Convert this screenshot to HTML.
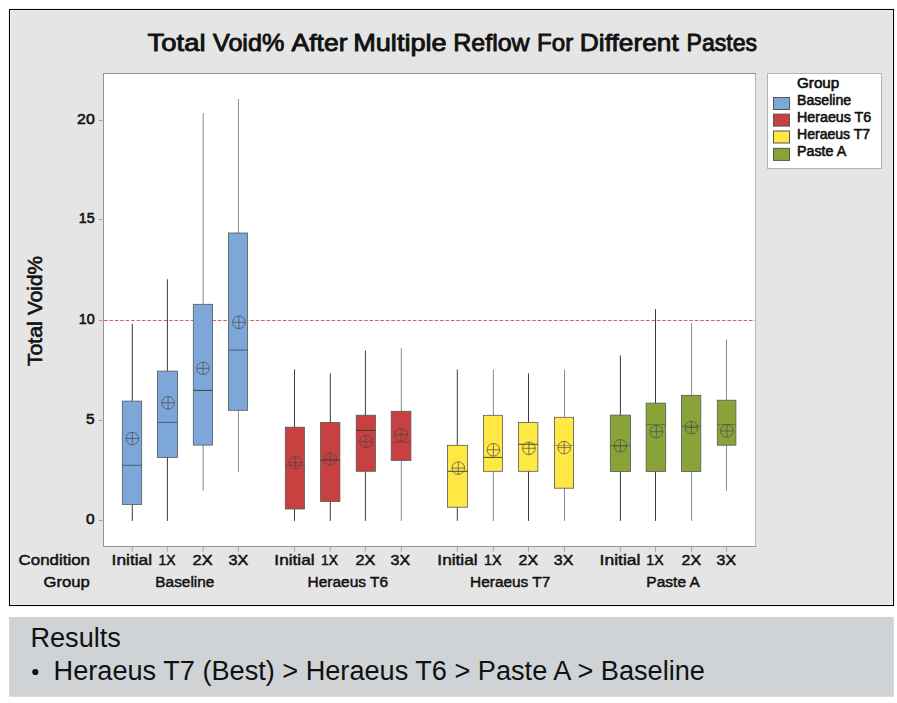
<!DOCTYPE html>
<html><head><meta charset="utf-8"><title>Total Void% After Multiple Reflow</title>
<style>
html,body{margin:0;padding:0;background:#fff;}
body{width:897px;height:703px;overflow:hidden;font-family:"Liberation Sans",sans-serif;}
svg{display:block;}
text{font-family:"Liberation Sans",sans-serif;fill:#111;}
.b{font-weight:normal;stroke:#111;stroke-linejoin:round;}
</style></head><body>
<svg width="897" height="703" viewBox="0 0 897 703">
<rect x="0" y="0" width="897" height="703" fill="#ffffff"/>
<!-- outer frame -->
<rect x="9.5" y="9.5" width="884" height="596" fill="#e5e5e5" stroke="#000" stroke-width="1.1"/>
<rect x="10.6" y="10.6" width="881.8" height="593.8" fill="none" stroke="#efefef" stroke-width="0.9"/>
<!-- plot area -->
<rect x="103.5" y="73.5" width="652" height="473" fill="#ffffff" stroke="#939393" stroke-width="1"/>
<line x1="755.5" y1="74.5" x2="755.5" y2="546" stroke="#b6b6b6" stroke-width="1"/>
<!-- legend -->
<rect x="767.5" y="73.5" width="114" height="95" fill="#ffffff" stroke="#b4b4b4" stroke-width="1"/>

<g class="b" font-size="24.5" stroke-width="0.9">
<text x="147.6" y="51.4" textLength="58.0" lengthAdjust="spacingAndGlyphs">Total</text>
<text x="213.0" y="51.4" textLength="71.3" lengthAdjust="spacingAndGlyphs">Void%</text>
<text x="291.5" y="51.4" textLength="56.0" lengthAdjust="spacingAndGlyphs">After</text>
<text x="353.2" y="51.4" textLength="93.5" lengthAdjust="spacingAndGlyphs">Multiple</text>
<text x="453.2" y="51.4" textLength="76.5" lengthAdjust="spacingAndGlyphs">Reflow</text>
<text x="537.0" y="51.4" textLength="36.2" lengthAdjust="spacingAndGlyphs">For</text>
<text x="579.8" y="51.4" textLength="99.0" lengthAdjust="spacingAndGlyphs">Different</text>
<text x="686.5" y="51.4" textLength="70.5" lengthAdjust="spacingAndGlyphs">Pastes</text>
</g>
<g stroke="#a8a8a8" stroke-width="1">
<line x1="98.5" y1="120.5" x2="103.5" y2="120.5"/>
<line x1="98.5" y1="219.5" x2="103.5" y2="219.5"/>
<line x1="98.5" y1="320.5" x2="103.5" y2="320.5"/>
<line x1="98.5" y1="420.5" x2="103.5" y2="420.5"/>
<line x1="98.5" y1="520.5" x2="103.5" y2="520.5"/>
</g>
<g class="b" font-size="15" stroke-width="0.6">
<text x="77.10" y="123.9" textLength="17.6" lengthAdjust="spacingAndGlyphs">20</text>
<text x="78.80" y="222.9" textLength="15.9" lengthAdjust="spacingAndGlyphs">15</text>
<text x="78.80" y="323.9" textLength="15.9" lengthAdjust="spacingAndGlyphs">10</text>
<text x="86.10" y="423.9" textLength="8.6" lengthAdjust="spacingAndGlyphs">5</text>
<text x="86.10" y="523.9" textLength="8.6" lengthAdjust="spacingAndGlyphs">0</text>
</g>
<text class="b" font-size="20.2" stroke-width="0.6" textLength="45" lengthAdjust="spacingAndGlyphs" transform="translate(42,366.2) rotate(-90)">Total</text>
<text class="b" font-size="20.2" stroke-width="0.6" textLength="59" lengthAdjust="spacingAndGlyphs" transform="translate(42,315) rotate(-90)">Void%</text>
<line x1="104" y1="320.5" x2="755" y2="320.5" stroke="#e35c5c" stroke-width="1" stroke-dasharray="3.6 1.82"/>
<line x1="132.3" y1="323.8" x2="132.3" y2="520.9" stroke="#3c3c3c" stroke-width="1"/>
<rect x="122.3" y="401.1" width="19.4" height="103.4" fill="#7da7d9" stroke="#585858" stroke-width="0.8"/>
<line x1="122.3" y1="465.3" x2="141.7" y2="465.3" stroke="#383838" stroke-opacity="0.75" stroke-width="0.9"/>
<g stroke="#484848" stroke-width="0.7" fill="none"><circle cx="132.3" cy="438.5" r="6.3"/><line x1="126.0" y1="438.5" x2="138.6" y2="438.5"/><line x1="132.3" y1="432.2" x2="132.3" y2="444.8"/></g>
<line x1="167.4" y1="279.3" x2="167.4" y2="520.9" stroke="#3c3c3c" stroke-width="1"/>
<rect x="157.4" y="371.1" width="20.1" height="86.4" fill="#7da7d9" stroke="#585858" stroke-width="0.8"/>
<line x1="157.4" y1="422.4" x2="177.5" y2="422.4" stroke="#383838" stroke-opacity="0.7" stroke-width="0.9"/>
<g stroke="#484848" stroke-width="0.7" fill="none"><circle cx="168.1" cy="402.8" r="6.3"/><line x1="161.8" y1="402.8" x2="174.4" y2="402.8"/><line x1="168.1" y1="396.5" x2="168.1" y2="409.1"/></g>
<line x1="203.2" y1="112.9" x2="203.2" y2="490.6" stroke="#8c8c8c" stroke-width="1"/>
<rect x="193.3" y="304.3" width="19.3" height="140.8" fill="#7da7d9" stroke="#585858" stroke-width="0.8"/>
<line x1="193.3" y1="390.4" x2="212.6" y2="390.4" stroke="#383838" stroke-opacity="1" stroke-width="0.9"/>
<g stroke="#484848" stroke-width="0.7" fill="none"><circle cx="203.1" cy="368.3" r="6.3"/><line x1="196.8" y1="368.3" x2="209.4" y2="368.3"/><line x1="203.1" y1="362.0" x2="203.1" y2="374.6"/></g>
<line x1="238.4" y1="98.9" x2="238.4" y2="471.7" stroke="#8c8c8c" stroke-width="1"/>
<rect x="228.5" y="233.0" width="19.1" height="177.3" fill="#7da7d9" stroke="#585858" stroke-width="0.8"/>
<line x1="228.5" y1="350.1" x2="247.6" y2="350.1" stroke="#383838" stroke-opacity="0.75" stroke-width="0.9"/>
<g stroke="#484848" stroke-width="0.7" fill="none"><circle cx="238.9" cy="322.3" r="6.3"/><line x1="232.6" y1="322.3" x2="245.2" y2="322.3"/><line x1="238.9" y1="316.0" x2="238.9" y2="328.6"/></g>
<line x1="294.5" y1="369.4" x2="294.5" y2="520.9" stroke="#3c3c3c" stroke-width="1"/>
<rect x="285.3" y="427.2" width="19.1" height="81.8" fill="#c8403f" stroke="#585858" stroke-width="0.8"/>
<line x1="285.3" y1="465.3" x2="304.4" y2="465.3" stroke="#383838" stroke-opacity="0.45" stroke-width="0.9"/>
<g stroke="#484848" stroke-width="0.7" fill="none"><circle cx="295.4" cy="462.5" r="6.3"/><line x1="289.1" y1="462.5" x2="301.7" y2="462.5"/><line x1="295.4" y1="456.2" x2="295.4" y2="468.8"/></g>
<line x1="330.3" y1="373.4" x2="330.3" y2="520.9" stroke="#3c3c3c" stroke-width="1"/>
<rect x="320.6" y="422.5" width="19.3" height="79.0" fill="#c8403f" stroke="#585858" stroke-width="0.8"/>
<line x1="320.6" y1="460.2" x2="339.9" y2="460.2" stroke="#383838" stroke-opacity="1" stroke-width="0.9"/>
<g stroke="#484848" stroke-width="0.7" fill="none"><circle cx="330.3" cy="459.0" r="6.3"/><line x1="324.0" y1="459.0" x2="336.6" y2="459.0"/><line x1="330.3" y1="452.7" x2="330.3" y2="465.3"/></g>
<line x1="365.4" y1="350.5" x2="365.4" y2="520.9" stroke="#3c3c3c" stroke-width="1"/>
<rect x="356.2" y="415.2" width="19.2" height="56.1" fill="#c8403f" stroke="#585858" stroke-width="0.8"/>
<line x1="356.2" y1="430.4" x2="375.4" y2="430.4" stroke="#383838" stroke-opacity="1" stroke-width="0.9"/>
<g stroke="#484848" stroke-width="0.7" fill="none"><circle cx="366.0" cy="441.5" r="6.3"/><line x1="359.7" y1="441.5" x2="372.3" y2="441.5"/><line x1="366.0" y1="435.2" x2="366.0" y2="447.8"/></g>
<line x1="401.3" y1="348.2" x2="401.3" y2="520.9" stroke="#8c8c8c" stroke-width="1"/>
<rect x="391.2" y="411.3" width="19.7" height="49.1" fill="#c8403f" stroke="#585858" stroke-width="0.8"/>
<line x1="391.2" y1="442.3" x2="410.9" y2="442.3" stroke="#383838" stroke-opacity="0.45" stroke-width="0.9"/>
<g stroke="#484848" stroke-width="0.7" fill="none"><circle cx="401.1" cy="434.6" r="6.3"/><line x1="394.8" y1="434.6" x2="407.4" y2="434.6"/><line x1="401.1" y1="428.3" x2="401.1" y2="440.9"/></g>
<line x1="457.3" y1="369.5" x2="457.3" y2="520.9" stroke="#3c3c3c" stroke-width="1"/>
<rect x="447.4" y="445.3" width="20.1" height="61.9" fill="#ffe843" stroke="#585858" stroke-width="0.8"/>
<line x1="447.4" y1="471.3" x2="467.5" y2="471.3" stroke="#383838" stroke-opacity="1" stroke-width="0.9"/>
<g stroke="#484848" stroke-width="0.7" fill="none"><circle cx="458.3" cy="468.1" r="6.3"/><line x1="452.0" y1="468.1" x2="464.6" y2="468.1"/><line x1="458.3" y1="461.8" x2="458.3" y2="474.4"/></g>
<line x1="493.4" y1="369.5" x2="493.4" y2="520.9" stroke="#8c8c8c" stroke-width="1"/>
<rect x="483.4" y="415.3" width="19.0" height="56.0" fill="#ffe843" stroke="#585858" stroke-width="0.8"/>
<line x1="483.4" y1="457.4" x2="502.4" y2="457.4" stroke="#383838" stroke-opacity="1" stroke-width="0.9"/>
<g stroke="#484848" stroke-width="0.7" fill="none"><circle cx="493.4" cy="449.8" r="6.3"/><line x1="487.1" y1="449.8" x2="499.7" y2="449.8"/><line x1="493.4" y1="443.5" x2="493.4" y2="456.1"/></g>
<line x1="528.5" y1="373.4" x2="528.5" y2="520.9" stroke="#3c3c3c" stroke-width="1"/>
<rect x="518.5" y="422.4" width="19.4" height="48.9" fill="#ffe843" stroke="#585858" stroke-width="0.8"/>
<line x1="518.5" y1="444.3" x2="537.9" y2="444.3" stroke="#383838" stroke-opacity="1" stroke-width="0.9"/>
<g stroke="#484848" stroke-width="0.7" fill="none"><circle cx="528.9" cy="448.3" r="6.3"/><line x1="522.6" y1="448.3" x2="535.2" y2="448.3"/><line x1="528.9" y1="442.0" x2="528.9" y2="454.6"/></g>
<line x1="564.5" y1="369.5" x2="564.5" y2="520.9" stroke="#8c8c8c" stroke-width="1"/>
<rect x="554.4" y="417.3" width="19.2" height="70.9" fill="#ffe843" stroke="#585858" stroke-width="0.8"/>
<line x1="554.4" y1="445.5" x2="573.6" y2="445.5" stroke="#383838" stroke-opacity="0.45" stroke-width="0.9"/>
<g stroke="#484848" stroke-width="0.7" fill="none"><circle cx="564.2" cy="447.6" r="6.3"/><line x1="557.9" y1="447.6" x2="570.5" y2="447.6"/><line x1="564.2" y1="441.3" x2="564.2" y2="453.9"/></g>
<line x1="620.4" y1="355.5" x2="620.4" y2="520.9" stroke="#3c3c3c" stroke-width="1"/>
<rect x="610.3" y="415.1" width="20.2" height="56.4" fill="#8aa339" stroke="#585858" stroke-width="0.8"/>
<line x1="610.3" y1="445.6" x2="630.5" y2="445.6" stroke="#383838" stroke-opacity="0.5" stroke-width="0.9"/>
<g stroke="#484848" stroke-width="0.7" fill="none"><circle cx="620.4" cy="445.8" r="6.3"/><line x1="614.1" y1="445.8" x2="626.7" y2="445.8"/><line x1="620.4" y1="439.5" x2="620.4" y2="452.1"/></g>
<line x1="655.5" y1="309.1" x2="655.5" y2="520.9" stroke="#3c3c3c" stroke-width="1"/>
<rect x="646.1" y="403.1" width="19.6" height="68.4" fill="#8aa339" stroke="#585858" stroke-width="0.8"/>
<line x1="646.1" y1="424.4" x2="665.7" y2="424.4" stroke="#383838" stroke-opacity="0.5" stroke-width="0.9"/>
<g stroke="#484848" stroke-width="0.7" fill="none"><circle cx="656.3" cy="431.7" r="6.3"/><line x1="650.0" y1="431.7" x2="662.6" y2="431.7"/><line x1="656.3" y1="425.4" x2="656.3" y2="438.0"/></g>
<line x1="691.6" y1="323.2" x2="691.6" y2="520.9" stroke="#8c8c8c" stroke-width="1"/>
<rect x="681.4" y="395.3" width="19.4" height="76.2" fill="#8aa339" stroke="#585858" stroke-width="0.8"/>
<line x1="681.4" y1="426.2" x2="700.8" y2="426.2" stroke="#383838" stroke-opacity="0.5" stroke-width="0.9"/>
<g stroke="#484848" stroke-width="0.7" fill="none"><circle cx="691.4" cy="427.5" r="6.3"/><line x1="685.1" y1="427.5" x2="697.7" y2="427.5"/><line x1="691.4" y1="421.2" x2="691.4" y2="433.8"/></g>
<line x1="726.5" y1="339.4" x2="726.5" y2="490.8" stroke="#8c8c8c" stroke-width="1"/>
<rect x="717.3" y="400.2" width="18.6" height="45.0" fill="#8aa339" stroke="#585858" stroke-width="0.8"/>
<line x1="717.3" y1="424.4" x2="735.9" y2="424.4" stroke="#383838" stroke-opacity="0.5" stroke-width="0.9"/>
<g stroke="#484848" stroke-width="0.7" fill="none"><circle cx="726.9" cy="430.9" r="6.3"/><line x1="720.6" y1="430.9" x2="733.2" y2="430.9"/><line x1="726.9" y1="424.6" x2="726.9" y2="437.2"/></g>
<g stroke="#a8a8a8" stroke-width="1">
<line x1="132.3" y1="547" x2="132.3" y2="551.6"/>
<line x1="167.4" y1="547" x2="167.4" y2="551.6"/>
<line x1="203.2" y1="547" x2="203.2" y2="551.6"/>
<line x1="238.4" y1="547" x2="238.4" y2="551.6"/>
<line x1="294.5" y1="547" x2="294.5" y2="551.6"/>
<line x1="330.3" y1="547" x2="330.3" y2="551.6"/>
<line x1="365.4" y1="547" x2="365.4" y2="551.6"/>
<line x1="401.3" y1="547" x2="401.3" y2="551.6"/>
<line x1="457.3" y1="547" x2="457.3" y2="551.6"/>
<line x1="493.4" y1="547" x2="493.4" y2="551.6"/>
<line x1="528.5" y1="547" x2="528.5" y2="551.6"/>
<line x1="564.5" y1="547" x2="564.5" y2="551.6"/>
<line x1="620.4" y1="547" x2="620.4" y2="551.6"/>
<line x1="655.5" y1="547" x2="655.5" y2="551.6"/>
<line x1="691.6" y1="547" x2="691.6" y2="551.6"/>
<line x1="726.5" y1="547" x2="726.5" y2="551.6"/>
</g>
<g class="b" font-size="15.5" stroke-width="0.5">
<text x="111.60" y="564.9" textLength="40.5" lengthAdjust="spacingAndGlyphs">Initial</text>
<text x="158.60" y="564.9" textLength="17.0" lengthAdjust="spacingAndGlyphs">1X</text>
<text x="192.60" y="564.9" textLength="20.0" lengthAdjust="spacingAndGlyphs">2X</text>
<text x="228.60" y="564.9" textLength="19.8" lengthAdjust="spacingAndGlyphs">3X</text>
<text x="274.35" y="564.9" textLength="40.2" lengthAdjust="spacingAndGlyphs">Initial</text>
<text x="321.10" y="564.9" textLength="17.0" lengthAdjust="spacingAndGlyphs">1X</text>
<text x="355.60" y="564.9" textLength="19.8" lengthAdjust="spacingAndGlyphs">2X</text>
<text x="390.60" y="564.9" textLength="19.5" lengthAdjust="spacingAndGlyphs">3X</text>
<text x="437.35" y="564.9" textLength="40.2" lengthAdjust="spacingAndGlyphs">Initial</text>
<text x="484.10" y="564.9" textLength="17.5" lengthAdjust="spacingAndGlyphs">1X</text>
<text x="518.60" y="564.9" textLength="19.5" lengthAdjust="spacingAndGlyphs">2X</text>
<text x="553.85" y="564.9" textLength="19.5" lengthAdjust="spacingAndGlyphs">3X</text>
<text x="599.60" y="564.9" textLength="40.8" lengthAdjust="spacingAndGlyphs">Initial</text>
<text x="646.35" y="564.9" textLength="17.2" lengthAdjust="spacingAndGlyphs">1X</text>
<text x="681.60" y="564.9" textLength="19.5" lengthAdjust="spacingAndGlyphs">2X</text>
<text x="716.60" y="564.9" textLength="19.5" lengthAdjust="spacingAndGlyphs">3X</text>
<text x="155.35" y="586.5" textLength="59.0" lengthAdjust="spacingAndGlyphs">Baseline</text>
<text x="307.60" y="586.5" textLength="80.5" lengthAdjust="spacingAndGlyphs">Heraeus T6</text>
<text x="470.10" y="586.5" textLength="80.2" lengthAdjust="spacingAndGlyphs">Heraeus T7</text>
<text x="646.35" y="586.5" textLength="53.5" lengthAdjust="spacingAndGlyphs">Paste A</text>
<text x="18.6" y="564.9" textLength="71.4" lengthAdjust="spacingAndGlyphs">Condition</text>
<text x="43.6" y="586.5" textLength="46.3" lengthAdjust="spacingAndGlyphs">Group</text>
</g>
<g class="b" font-size="14" stroke-width="0.6">
<text x="797.0" y="87.7" textLength="42.3" lengthAdjust="spacingAndGlyphs">Group</text>
<text x="797.0" y="104.8" textLength="54.1" lengthAdjust="spacingAndGlyphs">Baseline</text>
<text x="797.0" y="121.6" textLength="74.2" lengthAdjust="spacingAndGlyphs">Heraeus T6</text>
<text x="797.0" y="138.5" textLength="73.2" lengthAdjust="spacingAndGlyphs">Heraeus T7</text>
<text x="797.0" y="155.6" textLength="49.2" lengthAdjust="spacingAndGlyphs">Paste A</text>
</g>
<rect x="773.5" y="97.5" width="16" height="12" fill="#7da7d9" stroke="#555" stroke-width="1"/>
<rect x="773.5" y="114.1" width="16" height="12" fill="#c8403f" stroke="#555" stroke-width="1"/>
<rect x="773.5" y="131.0" width="16" height="12" fill="#ffe843" stroke="#555" stroke-width="1"/>
<rect x="773.5" y="148.4" width="16" height="12" fill="#8aa339" stroke="#555" stroke-width="1"/>
<rect x="9.05" y="617" width="884.8" height="79.8" fill="#d0d3d6"/>
<text x="30.4" y="647.3" font-size="27.15">Results</text>
<circle cx="35.3" cy="672" r="3.1" fill="#111"/>
<text x="53.6" y="680.4" font-size="27.15" word-spacing="-0.02">Heraeus T7 (Best) &gt; Heraeus T6 &gt; Paste A &gt; Baseline</text>
</svg></body></html>
